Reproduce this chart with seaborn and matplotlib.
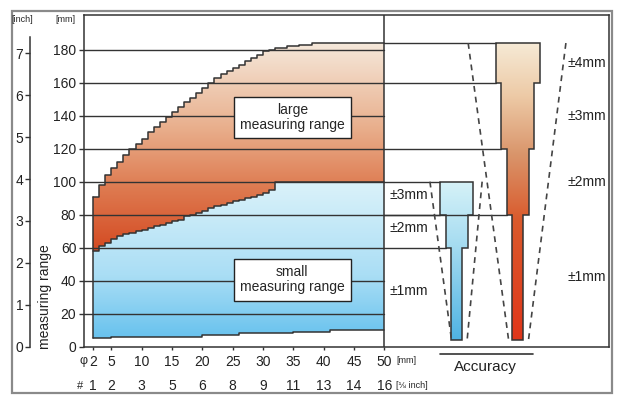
import matplotlib
matplotlib.use("Agg")
import matplotlib.pyplot as plt
import numpy as np
import seaborn as sns
from matplotlib.colors import LinearSegmentedColormap
from matplotlib.patches import Polygon, Rectangle

# pipe diameter [mm] and measuring ranges [mm]
diam = list(range(2, 51))
large_top = [91, 98, 104, 108, 112, 116, 120, 123, 126, 130, 133, 136, 139, 142, 145,
             148, 151, 154, 157, 160, 163, 165, 167, 169, 171, 173, 175, 177, 179, 180,
             181, 181, 182, 182, 183, 183, 184, 184,
             184, 184, 184, 184, 184, 184, 184, 184, 184, 184, 184]
small_top = [58, 61, 63, 65, 67, 68, 69, 70, 71, 72, 73, 74, 75, 76, 77, 79, 80, 81, 82,
             84, 85, 86, 87, 88, 89, 90, 91, 92, 93, 95,
             100, 100, 100, 100, 100, 100, 100, 100, 100, 100, 100, 100, 100, 100, 100,
             100, 100, 100, 100]
small_bottom = [5, 5, 5,
                6, 6, 6, 6, 6, 6, 6, 6, 6, 6, 6, 6, 6, 6, 6,
                7, 7, 7, 7, 7, 7,
                8, 8, 8, 8, 8, 8, 8, 8, 8,
                9, 9, 9, 9, 9, 9,
                10, 10, 10, 10, 10, 10, 10, 10, 10, 10]

mm_ticks = [0, 20, 40, 60, 80, 100, 120, 140, 160, 180]
inch_ticks = [0, 1, 2, 3, 4, 5, 6, 7]
dia_ticks = [2, 5, 10, 15, 20, 25, 30, 35, 40, 45, 50]
eighth_labels = ["1", "2", "3", "5", "6", "8", "9", "11", "13", "14", "16"]

# accuracy classes: band edges [mm] and tolerance [+/- mm]
large_edges = [184, 160, 120, 80, 4]
large_acc = [4, 3, 2, 1]
small_edges = [100, 80, 60, 4]
small_acc = [3, 2, 1]

# tolerance funnels (dashed), x at top / bottom of each side
large_funnel_left = [63.8, 70.5]
large_funnel_right = [79.9, 73.7]
small_funnel_left = [57.5, 61.1]
small_funnel_right = [66.1, 63.6]

LINE = "#333333"
sns.set_style("white")
plt.rcParams["font.family"] = ["Liberation Sans", "DejaVu Sans"]

fig = plt.figure(figsize=(6.21, 4.05), dpi=100)
ax = fig.add_axes([84 / 621, 58 / 405, (609 - 84) / 621, 332 / 405])

large_cmap = LinearSegmentedColormap.from_list(
    "large", [(0, "#d44a22"), (0.3, "#de7a50"), (0.6, "#e9b08e"), (1, "#f5e8da")])
small_cmap = LinearSegmentedColormap.from_list(
    "small", [(0, "#68c2ee"), (0.4, "#aadef5"), (1, "#dbf2fa")])
rbar_cmap = LinearSegmentedColormap.from_list(
    "rbar", [(0, "#e0361a"), (0.4, "#da5a2c"), (0.62, "#d9946a"), (0.82, "#edcaa6"), (1, "#f6ead6")])
bbar_cmap = LinearSegmentedColormap.from_list(
    "bbar", [(0, "#4fb3e3"), (0.6, "#a6dcf1"), (1, "#d6f2f8")])

grad = np.linspace(0, 1, 256).reshape(-1, 1)


def gradient(clip_path, cmap, x0, x1, y0, y1, transform=None):
    im = ax.imshow(grad, cmap=cmap, extent=(x0, x1, y0, y1), origin="lower",
                   aspect="auto", zorder=1, interpolation="bilinear")
    if transform is None:
        im.set_clip_path(clip_path)
    else:
        im.set_clip_path(clip_path, transform)


# measuring range areas
big = ax.fill_between(diam, small_top, large_top, step="post", color="none", lw=0)
gradient(big.get_paths()[0], large_cmap, 2, 50, min(small_top), max(large_top), ax.transData)
small = ax.fill_between(diam, small_bottom, small_top, step="post", color="none", lw=0)
gradient(small.get_paths()[0], small_cmap, 2, 50, min(small_bottom), max(small_top), ax.transData)

# grid lines over the left panel
for v in mm_ticks[1:]:
    ax.plot([0.5, 50], [v, v], color=LINE, lw=1.0, zorder=3)

for ys in (large_top, small_top, small_bottom):
    sns.lineplot(x=diam, y=ys, drawstyle="steps-post", color=LINE, lw=1.1,
                 ax=ax, estimator=None, sort=False, zorder=4)
ax.plot([diam[0], diam[0]], [small_bottom[0], large_top[0]], color=LINE, lw=1.1, zorder=4)
ax.axvline(50, color=LINE, lw=1.1, zorder=4)


def acc_bar(edges, acc, cx, k, cmap):
    right, left = [], []
    for i, a in enumerate(acc):
        right += [(cx + k * a, edges[i]), (cx + k * a, edges[i + 1])]
        left += [(cx - k * a, edges[i]), (cx - k * a, edges[i + 1])]
    pts = right + left[::-1]
    patch = Polygon(pts, closed=True, facecolor="none", edgecolor=LINE, lw=1.1, zorder=5)
    ax.add_patch(patch)
    gradient(patch, cmap, cx - k * max(acc), cx + k * max(acc), edges[-1], edges[0])
    # boundary lines out to the left panel
    for i, e in enumerate(edges[:-1]):
        a = acc[max(i - 1, 0)]
        ax.plot([50, cx - k * a], [e, e], color=LINE, lw=1.0, zorder=3)


k = 0.906
acc_bar(large_edges, large_acc, 72.0, k, rbar_cmap)
acc_bar(small_edges, small_acc, 61.9, k, bbar_cmap)

for fx, edges in ((large_funnel_left, large_edges), (large_funnel_right, large_edges),
                  (small_funnel_left, small_edges), (small_funnel_right, small_edges)):
    ax.plot(fx, [edges[0], edges[-1] - 1], color="#444444", lw=1.2,
            dashes=(3.5, 3), zorder=6)

for i, a in enumerate(large_acc):
    ax.text(80.1, (large_edges[i] + large_edges[i + 1]) / 2, f"±{a}mm",
            fontsize=10, ha="left", va="center", color="#222222")
for i, a in enumerate(small_acc):
    ax.text(50.8, (small_edges[i] + small_edges[i + 1]) / 2 + 2, f"±{a}mm",
            fontsize=10, ha="left", va="center", color="#222222")

box = dict(boxstyle="square,pad=0.45", facecolor="white", edgecolor="#222222", lw=1)
ax.text(34.9, 139, "large\nmeasuring range", fontsize=10, ha="center", va="center",
        bbox=box, zorder=7, linespacing=1.1)
ax.text(34.8, 40.5, "small\nmeasuring range", fontsize=10, ha="center", va="center",
        bbox=box, zorder=7, linespacing=1.1)

# axes styling
ax.set_xlim(0.51, 87.0)
ax.set_ylim(-0.2, 201)
ax.set_yticks(mm_ticks)
ax.set_xticks(dia_ticks, labels=[str(d) for d in dia_ticks])
ax.tick_params(axis="both", which="major", direction="out", length=3.5, width=1,
               color=LINE, labelsize=10, labelcolor="#222222", pad=2)
ax.tick_params(axis="x", length=2.5, pad=3)
ax.tick_params(left=True, bottom=True)
for s in ax.spines.values():
    s.set_color(LINE)
    s.set_linewidth(1.1)
ax.grid(False)

xt = ax.get_xaxis_transform()
ax.text(0.35, -0.042, "φ", transform=xt, fontsize=9, ha="center", va="center", clip_on=False)
ax.text(-0.15, -0.117, "#", transform=xt, fontsize=8, ha="center", va="center", clip_on=False)
for d, lab in zip(dia_ticks, eighth_labels):
    ax.text(d, -0.117, lab, transform=xt, fontsize=10, ha="center", va="center",
            color="#222222", clip_on=False)
ax.text(51.9, -0.04, "[mm]", transform=xt, fontsize=6.5, ha="left", va="center", clip_on=False)
ax.text(51.9, -0.115, "[⅛ inch]", transform=xt, fontsize=6.5, ha="left", va="center",
        clip_on=False)

ax.plot([59.2, 74.5], [-4.4, -4.4], color=LINE, lw=1.2, clip_on=False)
ax.text(66.7, -12.5, "Accuracy", fontsize=11, ha="center", va="center", color="#222222",
        clip_on=False)

# inch scale
ax2 = fig.add_axes([29.5 / 621, 58 / 405, 0.0005, 332 / 405])
ax2.set_ylim(-0.2 / 25.4, 201 / 25.4)
ax2.set_yticks(inch_ticks)
ax2.set_xticks([])
for side in ("top", "right", "bottom"):
    ax2.spines[side].set_visible(False)
ax2.spines["left"].set_bounds(0, 7.4)
ax2.spines["left"].set_color(LINE)
ax2.spines["left"].set_linewidth(1.1)
ax2.patch.set_alpha(0)
ax2.tick_params(axis="y", direction="out", length=3.5, width=1, color=LINE,
                labelsize=10, labelcolor="#222222", pad=1, left=True)

fig.text(22 / 621, 1 - 20 / 405, "[inch]", fontsize=6.5, ha="center", va="center")
fig.text(65 / 621, 1 - 20 / 405, "[mm]", fontsize=6.5, ha="center", va="center")
fig.text(45 / 621, 1 - 297 / 405, "measuring range", fontsize=10, rotation=90,
         ha="center", va="center", color="#222222")

fig.patches.append(Rectangle((12 / 621, 1 - 393 / 405), (612 - 12) / 621, (393 - 11) / 405,
                             transform=fig.transFigure, fill=False, edgecolor="#8a8a8a",
                             lw=1.6))

fig.savefig("out.png", dpi=100)
